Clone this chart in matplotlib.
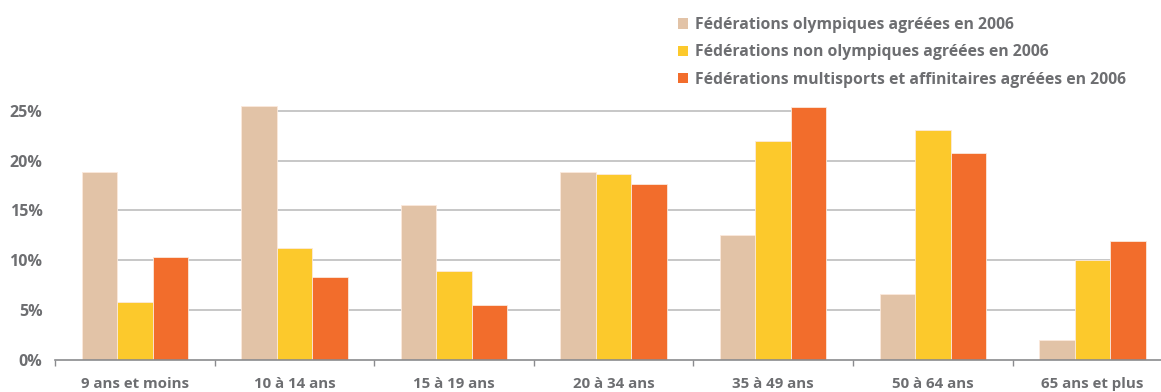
import numpy as np
import matplotlib
matplotlib.use('Agg')
import matplotlib.pyplot as plt
from matplotlib.patches import Patch

# données (%)
categories = ['9 ans et moins', '10 à 14 ans', '15 à 19 ans', '20 à 34 ans',
              '35 à 49 ans', '50 à 64 ans', '65 ans et plus']
olympiques = [18.9, 25.5, 15.5, 18.9, 12.5, 6.6, 2.0]
non_olympiques = [5.85, 11.2, 8.9, 18.7, 22.0, 23.1, 10.0]
multisports = [10.3, 8.3, 5.5, 17.7, 25.4, 20.8, 11.9]
series_labels = ['Fédérations olympiques agréées en 2006',
                 'Fédérations non olympiques agréées en 2006',
                 'Fédérations multisports et affinitaires agréées en 2006']
yticks = [0, 5, 10, 15, 20, 25]

colors = ['#E2C3A7', '#FCC92C', '#F26D2C']
grey = '#6D6E71'

plt.rcParams['font.family'] = ['Open Sans', 'DejaVu Sans']

fig = plt.figure(figsize=(11.61, 3.92), dpi=100)
ax = fig.add_axes([55 / 1161, 32 / 392, 1 - 55 / 1161, 259.2 / 392])

x = np.arange(len(categories))
w = 0.2225
series = [olympiques, non_olympiques, multisports]
offsets = [-w, 0, w]
for vals, off, c in zip(series, offsets, colors):
    ax.bar(x + off, vals, width=w, color=c, edgecolor='#FBE9DC', linewidth=0.6, zorder=2)

# lignes de grille : entre la première et la dernière barre qui dépassent le niveau
allx = np.concatenate([x + off for off in offsets])
allv = np.concatenate([np.array(v) for v in series])
for t in yticks[1:]:
    over = allx[allv > t]
    if len(over):
        ax.hlines(t, over.min(), over.max(), color='#BDBDBD', linewidth=1.2, zorder=1)

ax.set_xlim(-0.5, 6.43)
ax.set_ylim(0, 26)
for s in ['top', 'right', 'left']:
    ax.spines[s].set_visible(False)
ax.spines['bottom'].set_color('#8A8B8E')
ax.spines['bottom'].set_linewidth(1.2)

ax.set_yticks(yticks)
ax.set_yticklabels([f'{t}%' for t in yticks], fontsize=11.5, fontweight='bold', color=grey)
ax.tick_params(axis='y', length=0, pad=9)

ax.set_xticks(x)
ax.set_xticklabels(categories, fontsize=10.8, fontweight='bold', color=grey)
ax.tick_params(axis='x', length=0, pad=12)
ax.set_xticks(np.arange(len(categories)) - 0.5, minor=True)
ax.tick_params(axis='x', which='minor', length=4, color='#8A8B8E', width=1)

handles = [Patch(facecolor=c, edgecolor='none') for c in colors]
leg = fig.legend(handles, series_labels, loc='upper left', bbox_to_anchor=(664 / 1161, 1 - 3 / 392),
                 frameon=False, handlelength=0.65, handleheight=0.65, handletextpad=0.4,
                 labelspacing=0.72, prop={'size': 11.3, 'weight': 'bold'})
for t in leg.get_texts():
    t.set_color(grey)

fig.savefig('out.png', dpi=100)
